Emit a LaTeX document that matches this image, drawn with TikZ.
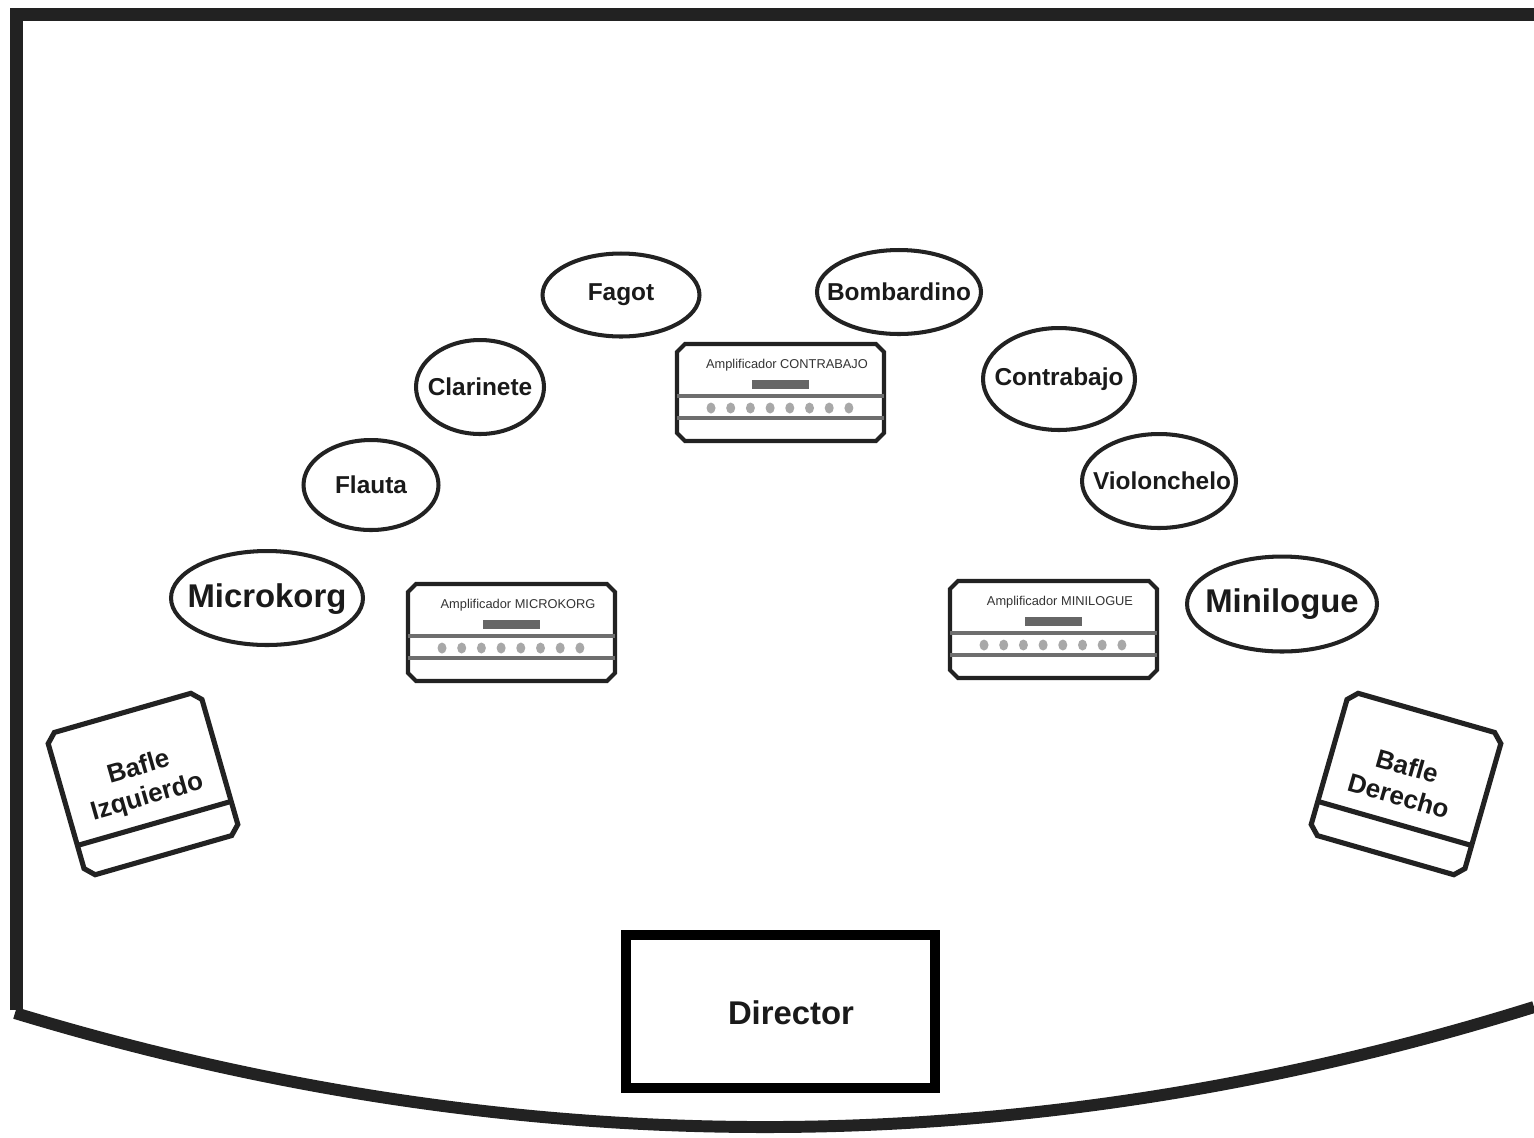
\documentclass[tikz,border=0pt]{standalone}
\usepackage{fontspec}
\newfontfamily\arial{Liberation Sans}
\usetikzlibrary{shapes.geometric}
\definecolor{ink}{HTML}{222222}
\definecolor{ampline}{HTML}{6E6E6E}
\definecolor{ampbar}{HTML}{666666}
\definecolor{ampdot}{HTML}{A8A8A8}
\definecolor{txt}{HTML}{1A1A1A}
\newcommand{\instfont}{\arial\bfseries\fontsize{13.9}{16}\selectfont}
\newcommand{\bigfont}{\arial\bfseries\fontsize{18.7}{21}\selectfont}
\newcommand{\ampfont}{\arial\fontsize{7.3}{8.5}\selectfont}
\newcommand{\baflefont}{\arial\bfseries\fontsize{14.8}{17.6}\selectfont}
\newcommand{\ampunit}[4]{%
  \draw[ampbox] (#2+10,#3+2) -- (#2+201,#3+2) -- (#2+209,#3+10) -- (#2+209,#3+91)
     -- (#2+201,#3+99) -- (#2+10,#3+99) -- (#2+2,#3+91) -- (#2+2,#3+10) -- cycle;
  \draw[amprule] (#2+2,#3+54) -- (#2+209,#3+54);
  \draw[amprule] (#2+2,#3+76) -- (#2+209,#3+76);
  \fill[ampbar] (#2+77,#3+38) rectangle (#2+134,#3+47);
  \foreach \i in {0,...,7} \fill[ampdot] (#2+36+19.7*\i,#3+66) ellipse (4.5 and 5.5);
  \node[amptext] (#1) at (#2+112,#3+23) {#4};
}
\tikzset{
  inst/.style={ellipse, draw=ink, line width=2.3pt, inner sep=0pt},
  insttext/.style={font=\instfont, text=txt, inner sep=0pt},
  bigtext/.style={font=\bigfont, text=txt, inner sep=0pt},
  amptext/.style={font=\ampfont, text=black!80, inner sep=0pt},
  ampbox/.style={draw=ink, line width=2.3pt, line join=miter},
  amprule/.style={draw=ampline, line width=2.3pt},
  baflebox/.style={draw=ink, line width=2.9pt, line join=miter},
  bafletext/.style={font=\baflefont, text=txt, align=center, inner sep=0pt},
  frame/.style={draw=ink, line width=7.4pt, line join=miter},
}
\begin{document}
\begin{tikzpicture}[x=0.02cm, y=-0.02cm]
\useasboundingbox (0,0) rectangle (1534,1137);
\fill[white] (0,0) rectangle (1534,1137);
% stage frame
\draw[frame] (16.5,1010) -- (16.5,14.5) -- (1534,14.5);
\draw[draw=ink, line width=6.8pt] (15,1013) .. controls (522,1167) and (1028,1165) .. (1534,1007);
% instruments
\node[inst, minimum width=3.14cm, minimum height=1.66cm] (fagot) at (621,295) {};
\node[insttext] (fagotT) at (fagot.center) {Fagot};
\node[inst, minimum width=3.28cm, minimum height=1.68cm] (bomb) at (899,292) {};
\node[insttext] (bombT) at (bomb.center) {Bombardino};
\node[inst, minimum width=2.56cm, minimum height=1.88cm] (clar) at (480,387) {};
\node[insttext] (clarT) at (clar.center) {Clarinete};
\node[inst, minimum width=3.04cm, minimum height=2.04cm] (contra) at (1059,379) {};
\node[insttext] (contraT) at (contra.center) {Contrabajo};
\node[inst, minimum width=2.70cm, minimum height=1.80cm] (flauta) at (371,485) {};
\node[insttext] (flautaT) at (flauta.center) {Flauta};
\node[inst, minimum width=3.08cm, minimum height=1.88cm] (violon) at (1159,481) {};
\node[insttext] (violonT) at (1162,481) {Violonchelo};
\node[inst, minimum width=3.84cm, minimum height=1.88cm] (micro) at (267,598) {};
\node[bigtext] (microT) at (267,599) {Microkorg};
\node[inst, minimum width=3.80cm, minimum height=1.90cm] (mini) at (1282,604) {};
\node[bigtext] (miniT) at (1282,604) {Minilogue};
% amplifiers
\ampunit{ampC}{675}{342}{Amplificador CONTRABAJO}
\ampunit{ampM}{406}{582}{Amplificador MICROKORG}
\ampunit{ampN}{948}{579}{Amplificador MINILOGUE}
% speakers
\begin{scope}[shift={(143,784)}, rotate=16]
  \draw[baflebox] (-71,-74) -- (71,-74) -- (80,-65) -- (80,65) -- (71,74) -- (-71,74) -- (-80,65) -- (-80,-65) -- cycle;
  \draw[baflebox] (-80,41) -- (80,41);
\end{scope}
\node[bafletext, rotate=16] (bafleL) at (143,783) {Bafle\\Izquierdo};
\begin{scope}[shift={(1406,784)}, rotate=-16]
  \draw[baflebox] (-71,-74) -- (71,-74) -- (80,-65) -- (80,65) -- (71,74) -- (-71,74) -- (-80,65) -- (-80,-65) -- cycle;
  \draw[baflebox] (-80,41) -- (80,41);
\end{scope}
\node[bafletext, rotate=-16] (bafleR) at (1403,781) {Bafle\\Derecho};
% director
\node[draw=black, line width=5.7pt, minimum width=6.18cm, minimum height=3.06cm, inner sep=0pt] (director) at (780.5,1011.5) {};
\node[bigtext] (directorT) at (791,1013) {Director};
\end{tikzpicture}
\end{document}
